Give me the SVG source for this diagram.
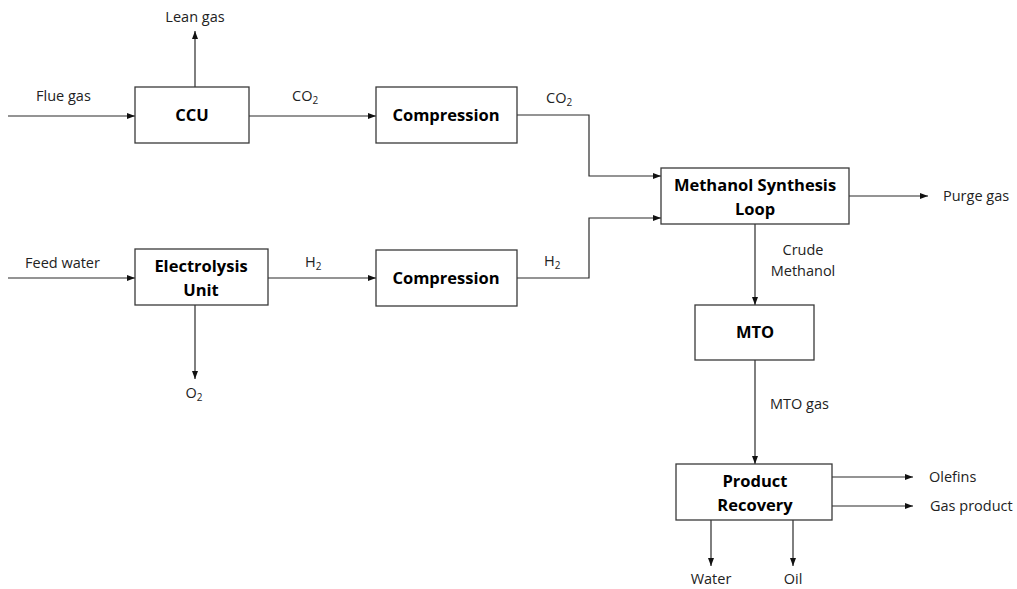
<svg xmlns="http://www.w3.org/2000/svg" width="1017" height="589" viewBox="0 0 1017 589">
  <style>
    .box { fill: #ffffff; stroke: #3a3a3a; stroke-width: 1.3; }
    .flow { fill: none; stroke: #2a2a2a; stroke-width: 1.2; }
    .arr { marker-end: url(#ah); }
    .unit { font-family: "Open Sans", "Liberation Sans", sans-serif; font-weight: bold; font-size: 16.5px; fill: #000; text-anchor: middle; }
    .lbl { font-family: "Open Sans", "Liberation Sans", sans-serif; font-size: 14.5px; fill: #222; }
    .mid { text-anchor: middle; }
  </style>
  <defs>
    <marker id="ah" viewBox="0 0 8 6" refX="8" refY="3" markerWidth="8" markerHeight="6" markerUnits="userSpaceOnUse" orient="auto">
      <path d="M0,0 L8,3 L0,6 Z" fill="#111"/>
    </marker>
  </defs>

  <rect width="1017" height="589" fill="#ffffff"/>

  <!-- process streams -->
  <g id="connectors">
    <line class="flow arr" x1="8" y1="116" x2="135" y2="116"/>
    <line class="flow arr" x1="195" y1="87" x2="195" y2="31"/>
    <line class="flow arr" x1="249" y1="116" x2="376" y2="116"/>
    <polyline class="flow arr" points="517,115 589,115 589,176 661,176"/>
    <line class="flow arr" x1="8" y1="278" x2="135" y2="278"/>
    <line class="flow arr" x1="195" y1="305" x2="195" y2="379"/>
    <line class="flow arr" x1="268" y1="278" x2="376" y2="278"/>
    <polyline class="flow arr" points="517,278 589,278 589,218 661,218"/>
    <line class="flow arr" x1="849" y1="196" x2="928" y2="196"/>
    <line class="flow arr" x1="755" y1="224" x2="755" y2="305"/>
    <line class="flow arr" x1="755" y1="360" x2="755" y2="464"/>
    <line class="flow arr" x1="832" y1="477" x2="913" y2="477"/>
    <line class="flow arr" x1="832" y1="506" x2="913" y2="506"/>
    <line class="flow arr" x1="711" y1="520" x2="711" y2="566"/>
    <line class="flow arr" x1="793" y1="520" x2="793" y2="566"/>
  </g>

  <!-- stream labels -->
  <g id="labels">
    <text class="lbl" x="36" y="101">Flue gas</text>
    <text class="lbl mid" x="195" y="22">Lean gas</text>
    <text class="lbl" x="292" y="101">CO<tspan font-size="10" dy="3">2</tspan></text>
    <text class="lbl" x="546" y="103">CO<tspan font-size="10" dy="3">2</tspan></text>
    <text class="lbl" x="25" y="268">Feed water</text>
    <text class="lbl" x="305" y="267">H<tspan font-size="10" dy="3">2</tspan></text>
    <text class="lbl" x="544" y="266">H<tspan font-size="10" dy="3">2</tspan></text>
    <text class="lbl mid" x="194" y="398">O<tspan font-size="10" dy="3">2</tspan></text>
    <text class="lbl" x="943" y="201">Purge gas</text>
    <text class="lbl mid" x="803" y="255">Crude</text>
    <text class="lbl mid" x="803" y="276">Methanol</text>
    <text class="lbl" x="770" y="409">MTO gas</text>
    <text class="lbl" x="929" y="482">Olefins</text>
    <text class="lbl" x="930" y="511">Gas product</text>
    <text class="lbl mid" x="711" y="584">Water</text>
    <text class="lbl mid" x="793" y="584">Oil</text>
  </g>

  <g id="ccu">
    <rect class="box" x="135" y="87" width="114" height="56"/>
    <text class="unit" x="192" y="121">CCU</text>
  </g>
  <g id="compression-co2">
    <rect class="box" x="376" y="87" width="141" height="56"/>
    <text class="unit" x="446" y="121">Compression</text>
  </g>
  <g id="electrolysis">
    <rect class="box" x="135" y="249" width="133" height="56"/>
    <text class="unit" x="201" y="272">Electrolysis</text>
    <text class="unit" x="201" y="296">Unit</text>
  </g>
  <g id="compression-h2">
    <rect class="box" x="376" y="250" width="141" height="56"/>
    <text class="unit" x="446" y="284">Compression</text>
  </g>
  <g id="methanol-synthesis">
    <rect class="box" x="661" y="168" width="188" height="56"/>
    <text class="unit" x="755" y="191">Methanol Synthesis</text>
    <text class="unit" x="755" y="215">Loop</text>
  </g>
  <g id="mto">
    <rect class="box" x="695" y="305" width="119" height="55"/>
    <text class="unit" x="755" y="338">MTO</text>
  </g>
  <g id="product-recovery">
    <rect class="box" x="676" y="464" width="156" height="56"/>
    <text class="unit" x="755" y="487">Product</text>
    <text class="unit" x="755" y="511">Recovery</text>
  </g>
</svg>
